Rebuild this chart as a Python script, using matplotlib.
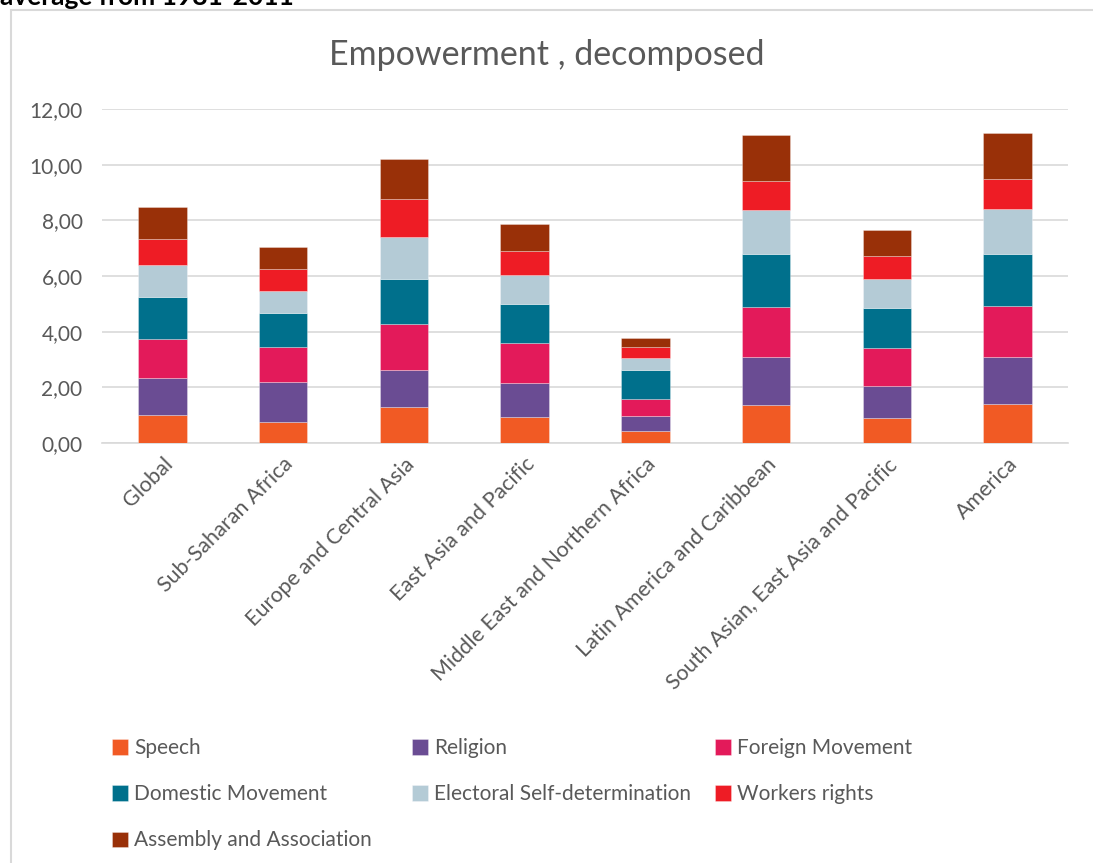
import numpy as np
import matplotlib
matplotlib.use("Agg")
import matplotlib.pyplot as plt
from matplotlib.patches import Rectangle

plt.rcParams['font.family'] = ['Lato', 'DejaVu Sans']

# regiones y componentes
regiones = ['Global', 'Sub-Saharan Africa', 'Europe and Central Asia',
            'East Asia and Pacific', 'Middle East and Northern Africa',
            'Latin America and Caribbean', 'South Asian, East Asia and Pacific',
            'America']

speech = [1.00, 0.75, 1.28, 0.92, 0.43, 1.38, 0.89, 1.39]
religion = [1.35, 1.43, 1.35, 1.25, 0.55, 1.70, 1.15, 1.71]
foreign_mov = [1.40, 1.27, 1.64, 1.41, 0.59, 1.81, 1.38, 1.81]
domestic_mov = [1.49, 1.21, 1.62, 1.40, 1.05, 1.89, 1.44, 1.88]
electoral = [1.15, 0.81, 1.52, 1.06, 0.42, 1.59, 1.03, 1.62]
workers = [0.95, 0.77, 1.35, 0.87, 0.40, 1.03, 0.83, 1.07]
assembly = [1.13, 0.79, 1.44, 0.95, 0.32, 1.66, 0.92, 1.67]

series = [speech, religion, foreign_mov, domestic_mov, electoral, workers, assembly]
nombres = ['Speech', 'Religion', 'Foreign Movement', 'Domestic Movement',
           'Electoral Self-determination', 'Workers rights', 'Assembly and Association']
colores = ['#F15A24', '#6A4C93', '#E31A5A', '#00708C', '#B4CBD6', '#EE1C25', '#993008']

fig = plt.figure(figsize=(10.93, 8.63), dpi=100)
ax = fig.add_axes([102/1093, 1-443/863, (1068-102)/1093, (443-109)/863])

x = np.arange(len(regiones))
base = np.zeros(len(regiones))
handles = []
for vals, nom, col in zip(series, nombres, colores):
    b = ax.bar(x, vals, 0.4, bottom=base, color=col, label=nom,
               edgecolor=(1, 1, 1, 0.35), linewidth=0.6, zorder=3)
    handles.append(b)
    base = base + np.array(vals)

ax.set_xlim(-0.5, len(regiones) - 0.5)
ax.set_ylim(0, 12)
ax.set_yticks(np.arange(0, 13, 2))
ax.set_yticklabels([('%.2f' % v).replace('.', ',') for v in np.arange(0, 13, 2)])
ax.grid(axis='y', color='#d9d9d9', linewidth=1.2, zorder=0)
for s in ['top', 'right', 'left']:
    ax.spines[s].set_visible(False)
ax.spines['bottom'].set_color('#d9d9d9')
ax.spines['bottom'].set_linewidth(1.2)
ax.tick_params(axis='both', length=0, colors='#595959')
ax.tick_params(axis='y', pad=14, labelsize=15)
ax.set_xticks(x)
ax.set_xticklabels(regiones, rotation=45, ha='right', rotation_mode='anchor')
ax.tick_params(axis='x', pad=8, labelsize=15.5)

fig.text(0.5, 1-55/863, 'Empowerment , decomposed', ha='center', va='center',
         fontsize=24.5, color='#595959')

# leyenda: tres columnas, llenado por filas
cols_x = [104, 404, 707]
for c in range(3):
    idx = list(range(c, len(nombres), 3))
    fig.legend(handles=[handles[i] for i in idx], labels=[nombres[i] for i in idx],
               loc='upper left', bbox_to_anchor=(cols_x[c]/1093, 1-730/863),
               frameon=False, fontsize=15, labelcolor='#595959',
               handlelength=0.75, handleheight=0.75, handletextpad=0.3,
               labelspacing=1.25, borderaxespad=0, borderpad=0.4)

# borde del grafico y texto cortado arriba
fig.patches.append(Rectangle((11/1093, -0.05), 1.2, 1.05 - 10/863,
                             transform=fig.transFigure, fill=False,
                             edgecolor='#d9d9d9', linewidth=1.5))
fig.text(0.0, 1-5/863, 'average from 1981-2011', ha='left', va='baseline',
         fontsize=19, fontweight='bold', color='black')

fig.savefig('out.png', dpi=100)
